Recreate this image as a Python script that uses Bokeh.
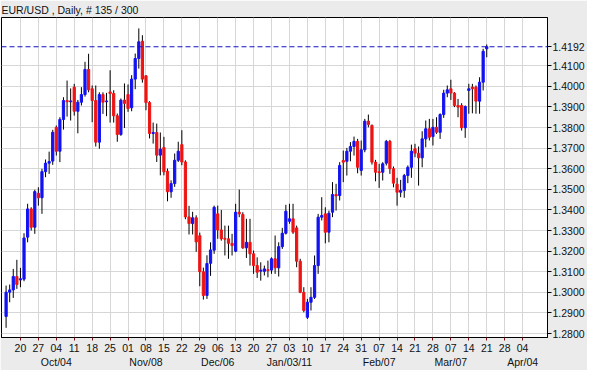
from bokeh.plotting import figure
from bokeh.models import (ColumnDataSource, Range1d, LinearAxis, FixedTicker,
                          PrintfTickFormatter, Span)
from bokeh.embed import file_html
from bokeh.resources import INLINE

# ---------------- data (EUR/USD daily, 135 bars, index 0 = Mon Sep 20 2010) ----------------
first_index = -4

opens = [
    1.2883, 1.3001, 1.3012, 1.3077, 1.3060, 1.3064, 1.3268, 1.3405, 1.3316, 1.3481,
    1.3459, 1.3586, 1.3627, 1.3637, 1.3801, 1.3685, 1.3839, 1.3931, 1.3925, 1.3996,
    1.3879, 1.3923, 1.3960, 1.4082, 1.3988, 1.3931, 1.3729, 1.3960, 1.3925, 1.3973,
    1.3965, 1.3857, 1.3766, 1.3933, 1.3960, 1.3896, 1.4035, 1.4135, 1.4219, 1.4051,
    1.3921, 1.3771, 1.3776, 1.3666, 1.3703, 1.3588, 1.3488, 1.3528, 1.3641, 1.3717,
    1.3633, 1.3366, 1.3334, 1.3362, 1.3275, 1.3100, 1.2985, 1.3141, 1.3205, 1.3381,
    1.3303, 1.3262, 1.3260, 1.3238, 1.3200, 1.3389, 1.3378, 1.3216, 1.3243, 1.3187,
    1.3130, 1.3103, 1.3102, 1.3110, 1.3108, 1.3163, 1.3119, 1.3222, 1.3287, 1.3345,
    1.3357, 1.3313, 1.3151, 1.3000, 1.2879, 1.2952, 1.2976, 1.3130, 1.3365, 1.3381,
    1.3292, 1.3389, 1.3475, 1.3470, 1.3640, 1.3636, 1.3685, 1.3708, 1.3733, 1.3592,
    1.3692, 1.3831, 1.3810, 1.3632, 1.3585, 1.3583, 1.3627, 1.3733, 1.3600, 1.3525,
    1.3486, 1.3495, 1.3567, 1.3607, 1.3697, 1.3675, 1.3653, 1.3745, 1.3794, 1.3756,
    1.3801, 1.3777, 1.3863, 1.3967, 1.3988, 1.3967, 1.3907, 1.3907, 1.3799, 1.3980,
    1.3996, 1.3996, 1.3928, 1.4020, 1.4182,
]
highs = [
    1.3033, 1.3038, 1.3114, 1.3158, 1.3119, 1.3287, 1.3430, 1.3413, 1.3498, 1.3510,
    1.3600, 1.3645, 1.3683, 1.3789, 1.3810, 1.3850, 1.3947, 1.4028, 1.3990, 1.4012,
    1.3934, 1.3996, 1.4119, 1.4158, 1.4004, 1.4004, 1.3971, 1.3971, 1.3968, 1.4078,
    1.3981, 1.3868, 1.3941, 1.4014, 1.4009, 1.4054, 1.4159, 1.4281, 1.4248, 1.4054,
    1.3928, 1.3824, 1.3819, 1.3776, 1.3755, 1.3601, 1.3544, 1.3674, 1.3731, 1.3787,
    1.3641, 1.3420, 1.3391, 1.3374, 1.3290, 1.3120, 1.3180, 1.3243, 1.3421, 1.3421,
    1.3400, 1.3324, 1.3324, 1.3284, 1.3430, 1.3499, 1.3389, 1.3357, 1.3357, 1.3203,
    1.3170, 1.3146, 1.3130, 1.3154, 1.3170, 1.3276, 1.3243, 1.3313, 1.3425, 1.3430,
    1.3430, 1.3324, 1.3163, 1.3025, 1.2968, 1.3025, 1.3179, 1.3381, 1.3462, 1.3413,
    1.3397, 1.3535, 1.3527, 1.3632, 1.3688, 1.3701, 1.3729, 1.3756, 1.3745, 1.3737,
    1.3842, 1.3863, 1.3815, 1.3643, 1.3624, 1.3632, 1.3740, 1.3740, 1.3611, 1.3556,
    1.3546, 1.3575, 1.3616, 1.3717, 1.3721, 1.3708, 1.3782, 1.3834, 1.3842, 1.3842,
    1.3850, 1.3869, 1.3983, 1.4004, 1.4032, 1.3972, 1.3939, 1.3918, 1.3907, 1.4012,
    1.4012, 1.4004, 1.4044, 1.4182, 1.4203,
]
lows = [
    1.2828, 1.2952, 1.2973, 1.3017, 1.3025, 1.3054, 1.3243, 1.3300, 1.3284, 1.3421,
    1.3381, 1.3559, 1.3575, 1.3619, 1.3664, 1.3632, 1.3790, 1.3853, 1.3834, 1.3858,
    1.3772, 1.3907, 1.3950, 1.3971, 1.3826, 1.3708, 1.3697, 1.3866, 1.3855, 1.3824,
    1.3824, 1.3731, 1.3760, 1.3798, 1.3876, 1.3879, 1.3986, 1.4086, 1.4018, 1.3884,
    1.3747, 1.3722, 1.3633, 1.3568, 1.3568, 1.3442, 1.3459, 1.3512, 1.3633, 1.3617,
    1.3355, 1.3281, 1.3281, 1.3197, 1.3030, 1.2965, 1.2968, 1.3080, 1.3187, 1.3260,
    1.3251, 1.3179, 1.3163, 1.3179, 1.3195, 1.3365, 1.3211, 1.3167, 1.3130, 1.3090,
    1.3070, 1.3057, 1.3082, 1.3073, 1.3090, 1.3090, 1.3077, 1.3211, 1.3281, 1.3333,
    1.3284, 1.3122, 1.2996, 1.2903, 1.2871, 1.2912, 1.2968, 1.3090, 1.3349, 1.3238,
    1.3243, 1.3365, 1.3397, 1.3446, 1.3535, 1.3567, 1.3636, 1.3664, 1.3578, 1.3567,
    1.3680, 1.3801, 1.3620, 1.3539, 1.3507, 1.3543, 1.3616, 1.3575, 1.3510, 1.3421,
    1.3462, 1.3459, 1.3530, 1.3556, 1.3656, 1.3518, 1.3607, 1.3704, 1.3737, 1.3713,
    1.3769, 1.3745, 1.3847, 1.3947, 1.3934, 1.3899, 1.3850, 1.3785, 1.3750, 1.3867,
    1.3869, 1.3867, 1.3867, 1.3980, 1.4141,
]
closes = [
    1.3001, 1.3012, 1.3077, 1.3038, 1.3066, 1.3264, 1.3405, 1.3316, 1.3489, 1.3459,
    1.3586, 1.3627, 1.3635, 1.3777, 1.3685, 1.3839, 1.3931, 1.3925, 1.3929, 1.3879,
    1.3923, 1.3960, 1.4082, 1.3983, 1.3931, 1.3729, 1.3960, 1.3923, 1.3929, 1.3965,
    1.3857, 1.3766, 1.3933, 1.3917, 1.3892, 1.4035, 1.4135, 1.4216, 1.4035, 1.3921,
    1.3771, 1.3776, 1.3666, 1.3695, 1.3585, 1.3488, 1.3528, 1.3641, 1.3685, 1.3633,
    1.3366, 1.3334, 1.3362, 1.3245, 1.3100, 1.2985, 1.3140, 1.3206, 1.3413, 1.3303,
    1.3260, 1.3258, 1.3238, 1.3227, 1.3389, 1.3381, 1.3216, 1.3243, 1.3187, 1.3130,
    1.3098, 1.3108, 1.3114, 1.3106, 1.3163, 1.3119, 1.3222, 1.3287, 1.3394, 1.3357,
    1.3292, 1.3151, 1.3000, 1.2912, 1.2952, 1.2976, 1.3130, 1.3365, 1.3373, 1.3292,
    1.3384, 1.3475, 1.3468, 1.3616, 1.3632, 1.3685, 1.3708, 1.3733, 1.3607, 1.3692,
    1.3831, 1.3815, 1.3632, 1.3583, 1.3581, 1.3624, 1.3733, 1.3600, 1.3530, 1.3486,
    1.3495, 1.3567, 1.3607, 1.3685, 1.3675, 1.3653, 1.3745, 1.3794, 1.3753, 1.3801,
    1.3777, 1.3863, 1.3967, 1.3983, 1.3967, 1.3907, 1.3899, 1.3799, 1.3902, 1.3988,
    1.3988, 1.3928, 1.4020, 1.4170, 1.4192,
]

day_ticks = [0, 5, 10, 15, 20, 25, 30, 35, 40, 45, 50, 55, 60, 65, 70,
             75, 80, 85, 90, 95, 100, 105, 110, 115, 120, 125, 130, 135, 140]
day_labels = ["20", "27", "04", "11", "18", "25", "01", "08", "15", "22", "29", "06", "13", "20", "27",
              "03", "10", "17", "24", "31", "07", "14", "21", "28", "07", "14", "21", "28", "04"]
month_ticks = [10, 35, 55, 75, 100, 120, 140]
month_labels = ["Oct/04", "Nov/08", "Dec/06", "Jan/03/11", "Feb/07", "Mar/07", "Apr/04"]
price_ticks = [1.28, 1.29, 1.30, 1.31, 1.32, 1.33, 1.34, 1.35, 1.36, 1.37, 1.38, 1.39, 1.40, 1.41]
last_price = 1.4192
title_text = "EUR/USD , Daily, # 135 / 300"

# ---------------- styling ----------------
FONT = "Liberation Sans"
FS = "10.5px"
UP = "#1212F2"
DOWN = "#EE1414"
GRID = "#D6D6D6"
BG = "#EBEBEB"

xs = [first_index + k for k in range(len(opens))]
src = ColumnDataSource(dict(
    x=xs, open=opens, high=highs, low=lows, close=closes,
    top=[max(o, c) for o, c in zip(opens, closes)],
    bottom=[min(o, c) for o, c in zip(opens, closes)],
    color=[UP if c >= o else DOWN for o, c in zip(opens, closes)],
))

p = figure(width=587, height=370, output_backend="svg", toolbar_location=None,
           x_range=Range1d(-5.28, 146.94), y_range=Range1d(1.2781, 1.4334),
           y_axis_location="right",
           min_border_left=1, min_border_right=38, min_border_top=17, min_border_bottom=33)
p.background_fill_color = "white"
p.border_fill_color = BG
p.outline_line_color = "black"
p.outline_line_width = 1

# title (own panel above the frame)
p.title.text = title_text
p.title.text_font = FONT
p.title.text_font_size = FS
p.title.text_font_style = "normal"
p.title.text_color = "#111111"
p.title.align = "left"
p.title.offset = 0
p.title.standoff = 3

# grids
p.xgrid.ticker = FixedTicker(ticks=day_ticks)
p.xgrid.grid_line_color = GRID
p.ygrid.ticker = FixedTicker(ticks=price_ticks)
p.ygrid.grid_line_color = GRID

# right price axis (regular ticks plus the last price)
ya = p.yaxis[0]
ya.ticker = FixedTicker(ticks=price_ticks + [last_price])
ya.formatter = PrintfTickFormatter(format="%.4f")
ya.major_label_text_font = FONT
ya.major_label_text_font_size = FS
ya.major_label_text_color = "#111111"
ya.major_tick_out = 4
ya.major_tick_in = 0
ya.minor_tick_line_color = None
ya.major_label_standoff = 1
ya.axis_line_color = "black"
ya.major_tick_line_color = "black"

# bottom day axis
xa = p.xaxis[0]
xa.ticker = FixedTicker(ticks=day_ticks)
xa.major_label_overrides = {t: s for t, s in zip(day_ticks, day_labels)}
xa.major_label_text_font = FONT
xa.major_label_text_font_size = FS
xa.major_label_text_color = "#111111"
xa.major_tick_out = 3
xa.major_tick_in = 0
xa.minor_tick_line_color = None
xa.major_label_standoff = 3
xa.axis_line_color = "black"
xa.major_tick_line_color = "#7A1010"

# month axis
ma = LinearAxis(ticker=FixedTicker(ticks=month_ticks),
                major_label_overrides={t: s for t, s in zip(month_ticks, month_labels)})
ma.major_label_text_font = FONT
ma.major_label_text_font_size = FS
ma.major_label_text_color = "#111111"
ma.axis_line_color = None
ma.major_tick_line_color = None
ma.minor_tick_line_color = None
ma.major_tick_out = 0
ma.major_tick_in = 0
ma.minor_tick_out = 0
ma.minor_tick_in = 0
ma.major_label_standoff = 1
p.add_layout(ma, "below")

# last price line
p.add_layout(Span(location=last_price, dimension="width", line_color="#1010C8",
                  line_dash="5 3", line_width=1))

# candles
p.segment(x0="x", y0="low", x1="x", y1="high", line_color="black", line_width=1, source=src)
p.vbar(x="x", width=0.62, top="top", bottom="bottom", fill_color="color",
       line_color="color", line_width=1, source=src)

open("out.html", "w").write(file_html(p, INLINE))
